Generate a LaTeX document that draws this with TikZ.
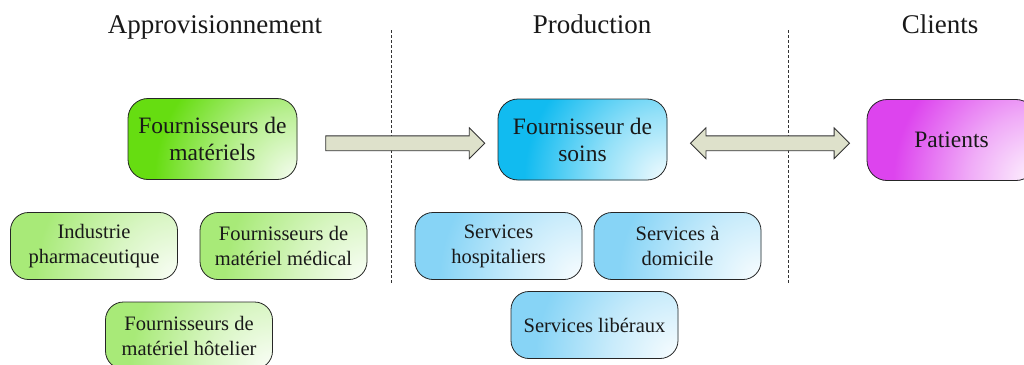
\documentclass[tikz,border=0pt]{standalone}
\usepackage{fontspec}
\setmainfont{Liberation Serif}
\usetikzlibrary{shapes.arrows,calc}

\definecolor{vertvif}{RGB}{102,221,17}
\definecolor{vertclair}{RGB}{168,234,120}
\definecolor{cyanvif}{RGB}{17,187,240}
\definecolor{bleuclair}{RGB}{135,212,246}
\definecolor{magentavif}{RGB}{221,68,238}
\definecolor{kaki}{RGB}{222,225,203}
\colorlet{teinte}{vertvif}

% Eclaircissement dans le coin bas droit des blocs
\pgfdeclareradialshading[teinte]{coin}{\pgfpoint{0bp}{0bp}}{color(0bp)=(teinte!5!white); color(8bp)=(teinte!45!white); color(17bp)=(teinte); color(50bp)=(teinte)}

\begin{document}
\begin{tikzpicture}[x=1pt, y=-1pt]

% Cadre de la figure
\useasboundingbox (0,0) rectangle (1024,364);

% Styles des blocs et des titres
\tikzstyle{bloc} = [draw=black!85, line width=0.8pt, rounded corners=20pt, align=center, text=black!90]
\tikzstyle{grand} = [bloc, minimum width=169pt, minimum height=81pt, font=\rmfamily\fontsize{23.5}{27}\selectfont]
\tikzstyle{petit} = [bloc, rounded corners=18pt, minimum width=167pt, minimum height=67pt, font=\rmfamily\fontsize{20.5}{25}\selectfont]
\tikzstyle{titre} = [anchor=base, text=black!90, font=\rmfamily\fontsize{27}{30}\selectfont]
\tikzstyle{separation} = [densely dashed, black!80, line width=0.6pt]

% Degrades : couleur pleine, eclaircie vers le coin bas droit
\tikzstyle{degrade} = [fill=#1, path picture={
    \colorlet{teinte}{#1}
    \shade[shading=coin]
        ($(path picture bounding box.south east)+(-210,-210)$)
        rectangle ($(path picture bounding box.south east)+(210,210)$);}]

% Grosses fleches entre les colonnes
\tikzstyle{fleche} = [draw=black!80, fill=kaki, line width=0.8pt, minimum height=159pt, inner sep=7pt, anchor=center]

% Titres des colonnes
\node[titre] (tappro) at (215,33) {Approvisionnement};
\node[titre] (tprod) at (592,33) {Production};
\node[titre] (tclients) at (940,33) {Clients};

\draw[separation] (391,30) -- (391,283);
\draw[separation] (788,30) -- (788,283);

% Blocs principaux
\node[grand, degrade=vertvif] (materiels) at (212.5,139) {Fournisseurs de\\mat\'eriels};
\node[grand, degrade=cyanvif] (soins) at (582.5,139.5) {Fournisseur de\\soins};
\node[grand, degrade=magentavif] (patients) at (951.5,140) {Patients};

% Fournisseurs
\node[petit, degrade=vertclair] (industrie) at (94,246) {Industrie\\pharmaceutique};
\node[petit, degrade=vertclair] (medical) at (283.5,246) {Fournisseurs de\\mat\'eriel m\'edical};
\node[petit, degrade=vertclair] (hotelier) at (189,335.5) {Fournisseurs de\\mat\'eriel h\^otelier};

% Services de soins
\node[petit, degrade=bleuclair] (hospit) at (498.5,246) {Services\\hospitaliers};
\node[petit, degrade=bleuclair] (domicile) at (677.5,246) {Services \`a\\domicile};
\node[petit, degrade=bleuclair] (liberaux) at (594.5,325) {Services lib\'eraux};

% Flux
\node[fleche, single arrow, single arrow head extend=8pt] (flux1) at ($(materiels.east)!0.5!(soins.west)+(4,4)$) {};
\node[fleche, double arrow, double arrow head extend=8pt] (flux2) at ($(soins.east)!0.5!(patients.west)+(3,3.5)$) {};

\end{tikzpicture}
\end{document}
